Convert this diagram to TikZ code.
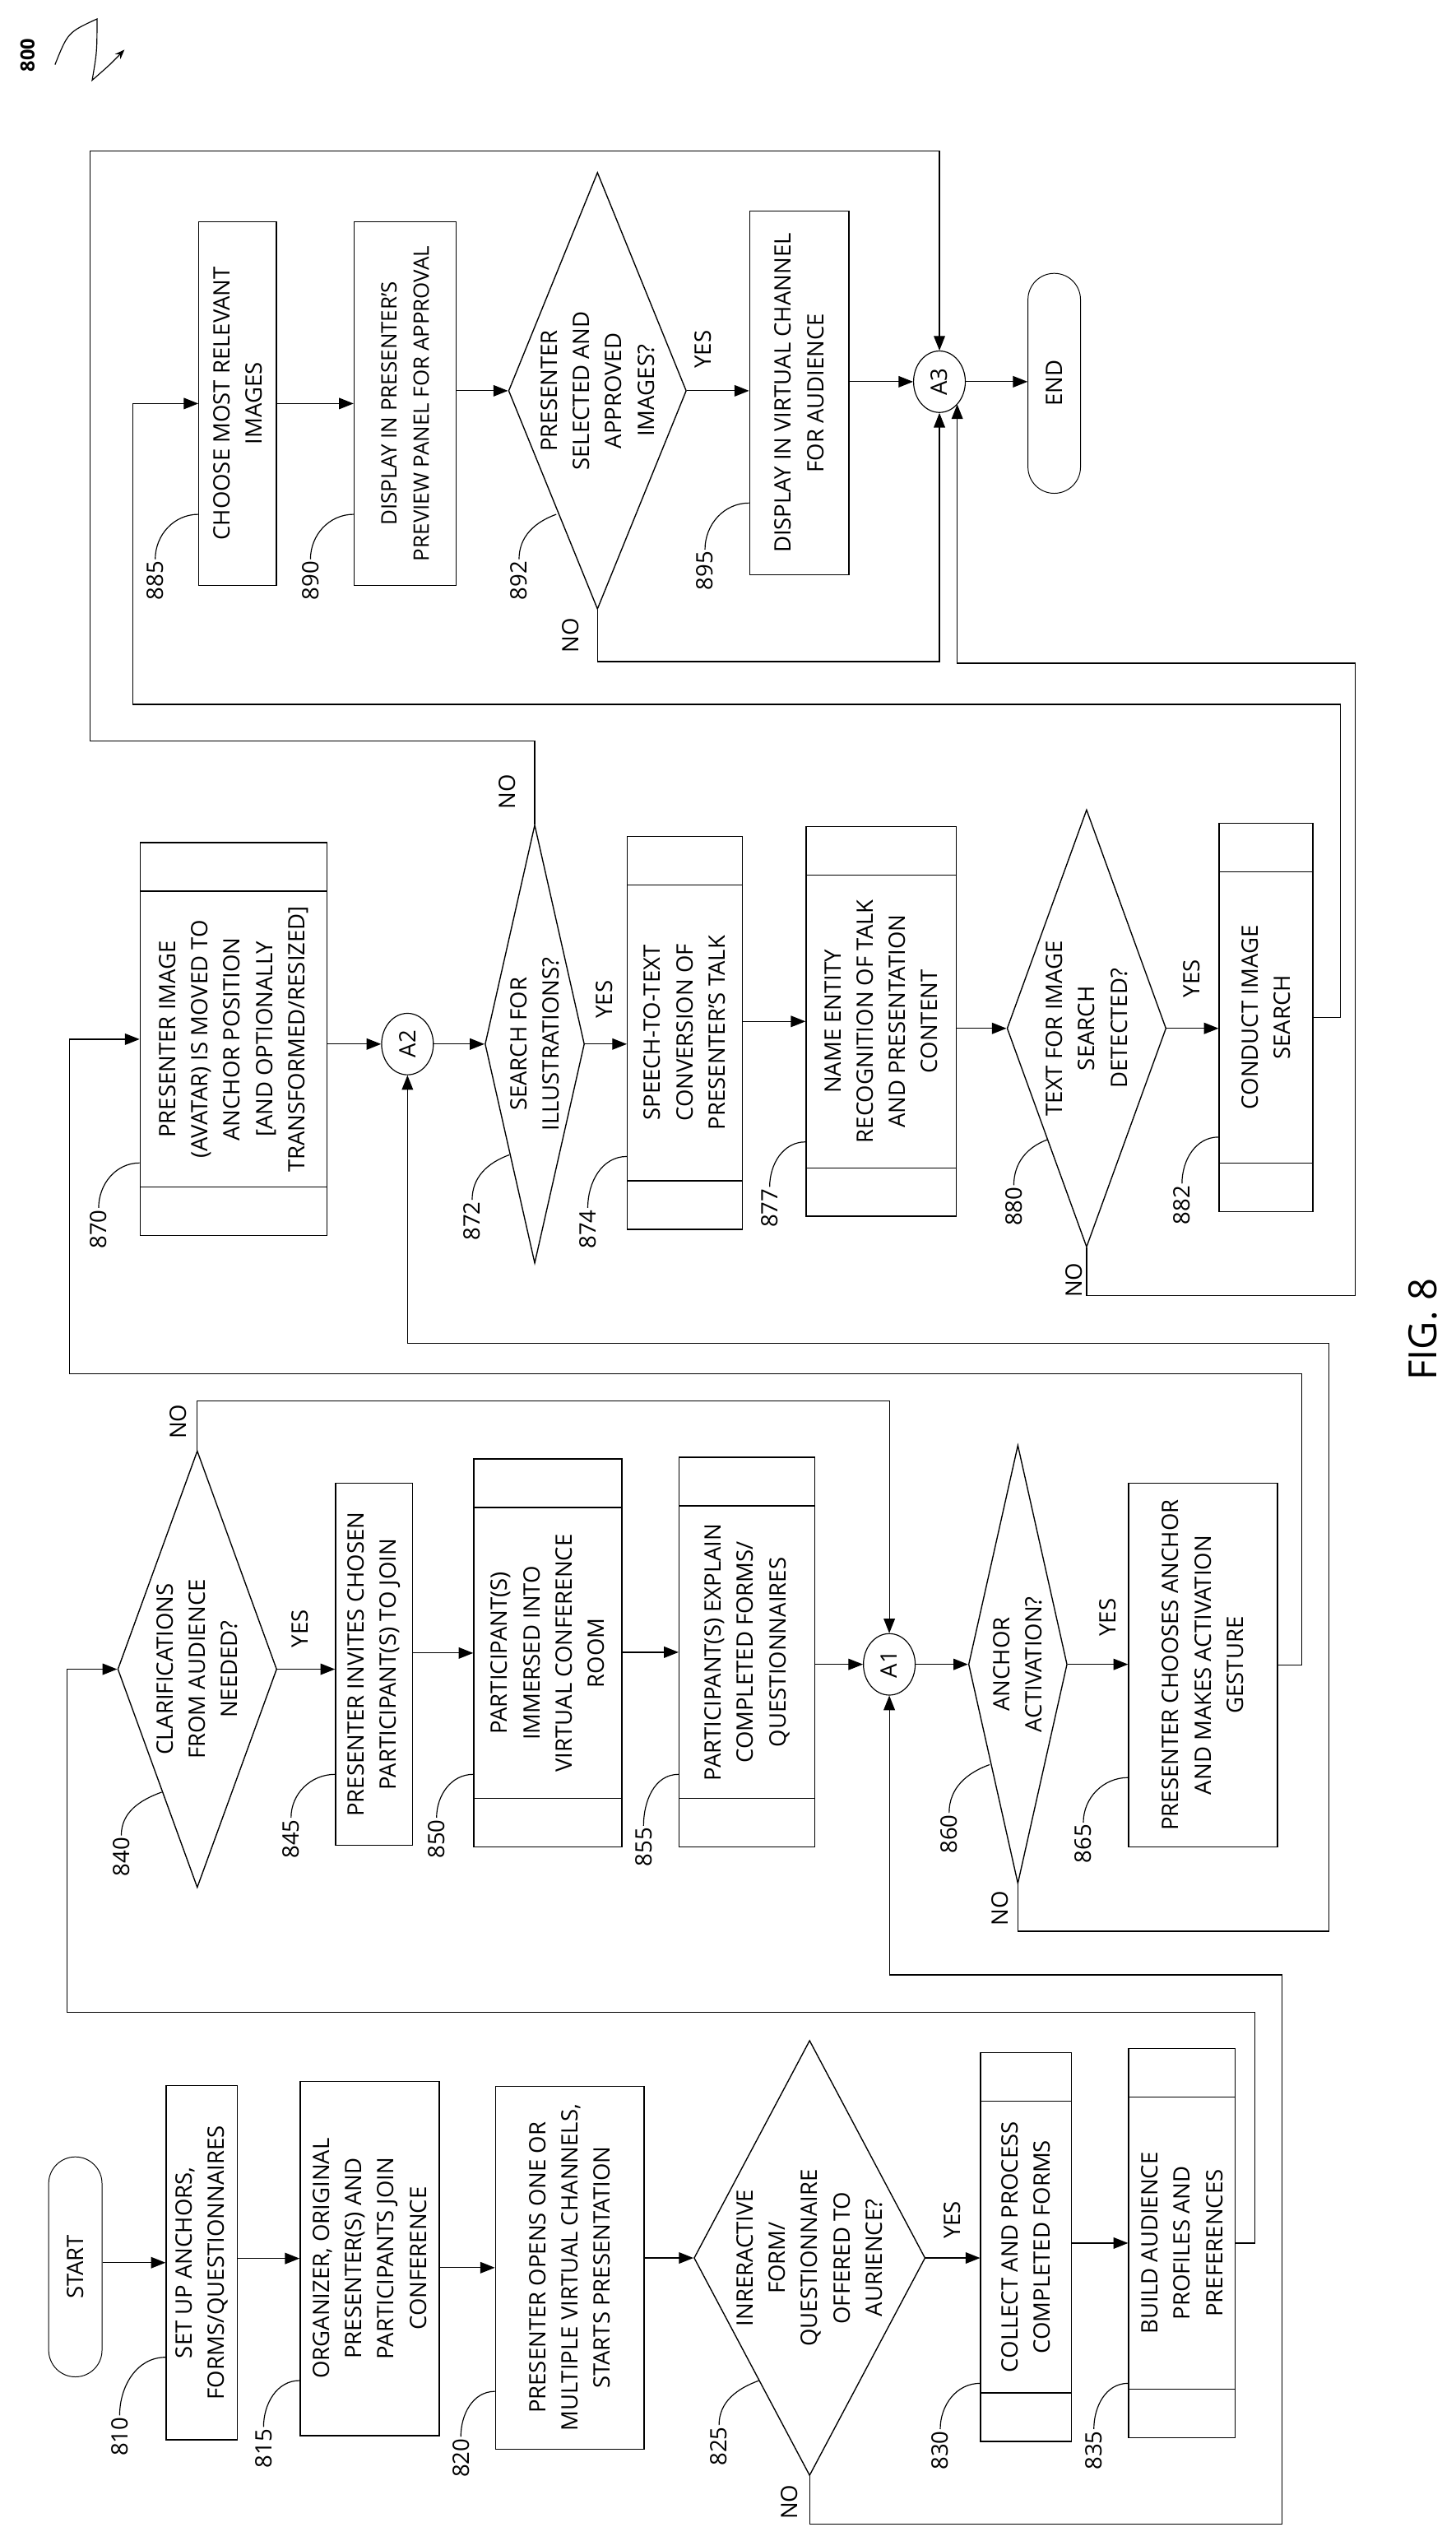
\documentclass[tikz,border=0pt]{standalone}
\usepackage{fontspec}
\setmainfont{Open Sans}
\usetikzlibrary{shapes.geometric,shapes.misc,arrows.meta}
\begin{document}
\begin{tikzpicture}[x=1pt,y=-1pt,
  every node/.style={font=\fontsize{14}{20}\selectfont},
  box/.style={draw,rectangle,rotate=90,inner sep=0pt,align=center,line width=.7pt},
  dia/.style={draw,diamond,rotate=90,inner sep=0pt,line width=.7pt},
  txt/.style={rotate=90,align=center,inner sep=0pt},
  ell/.style={draw,ellipse,rotate=90,inner sep=0pt,line width=.6pt},
  pill/.style={draw,rounded rectangle,rotate=90,inner sep=0pt,line width=.5pt},
  lab/.style={rotate=90,inner sep=1pt,font=\fontsize{14}{16}\selectfont},
  yn/.style={rotate=90,inner sep=0pt,font=\fontsize{14}{16}\selectfont},
  arr/.style={-{Triangle[length=9pt,width=7pt]},line width=.6pt},
  lead/.style={line width=.6pt}]
\useasboundingbox (0,0) rectangle (900,1571);
\newcommand\BX[6]{\node[box,minimum width=#5pt,minimum height=#4pt] (#1) at (#2,#3) {#6};}
\newcommand\PB[6]{\BX{#1}{#2}{#3}{#4}{#5}{#6}
  \draw[line width=.7pt] ({#2-#4/2},{#3-#5/2+30}) -- ({#2+#4/2},{#3-#5/2+30});
  \draw[line width=.7pt] ({#2-#4/2},{#3+#5/2-30}) -- ({#2+#4/2},{#3+#5/2-30});}
\newcommand\DI[6]{\node[dia,minimum width=#5pt,minimum height=#4pt] (#1) at (#2,#3) {};
  \node[txt] at (#2,#3) {#6};}
% ---------- column 1
\node[pill,minimum width=136pt,minimum height=33pt] (start) at (46.6,1401.5) {START};
\BX{s810}{124.75}{1398.9}{44}{219}{SET UP ANCHORS,\\FORMS/QUESTIONNAIRES}
\BX{s815}{228.6}{1396.3}{86}{219}{ORGANIZER, ORIGINAL\\PRESENTER(S) AND\\PARTICIPANTS JOIN\\CONFERENCE}
\BX{s820}{352.4}{1402}{92}{224.5}{PRESENTER OPENS ONE OR\\MULTIPLE VIRTUAL CHANNELS,\\STARTS PRESENTATION}
\DI{d825}{500.7}{1396}{143}{269}{INRERACTIVE\\FORM/\\QUESTIONNAIRE\\OFFERED TO\\AURIENCE?}
\PB{s830}{634.5}{1389.2}{56}{240.4}{COLLECT AND PROCESS\\COMPLETED FORMS}
\PB{s835}{731}{1386.8}{66}{240.4}{BUILD AUDIENCE\\PROFILES AND\\PREFERENCES}
% ---------- column 2
\DI{d840}{122}{1032}{98.4}{270}{CLARIFICATIONS\\FROM AUDIENCE\\NEEDED?}
\BX{s845}{231.3}{1029}{47.5}{224}{PRESENTER INVITES CHOSEN\\PARTICIPANT(S) TO JOIN}
\PB{s850}{338.8}{1022}{91.6}{240}{PARTICIPANT(S)\\IMMERSED INTO\\VIRTUAL CONFERENCE\\ROOM}
\PB{s855}{462}{1021.5}{84}{241}{PARTICIPANT(S) EXPLAIN\\COMPLETED FORMS/\\QUESTIONNAIRES}
\node[ell,minimum width=38pt,minimum height=32pt] (a1) at (550,1029) {A1};
\DI{d860}{629.5}{1029}{61}{271}{ANCHOR\\ACTIVATION?}
\BX{s865}{744}{1029.5}{92}{225}{PRESENTER CHOOSES ANCHOR\\AND MAKES ACTIVATION\\GESTURE}
% ---------- column 3
\PB{s870}{144.5}{642.5}{115.7}{243}{PRESENTER IMAGE\\(AVATAR) IS MOVED TO\\ANCHOR POSITION\\{[AND OPTIONALLY}\\TRANSFORMED/RESIZED]}
\node[ell,minimum width=38pt,minimum height=32pt] (a2) at (252,645.5) {A2};
\DI{d872}{330.7}{645.5}{61.5}{271}{SEARCH FOR\\ILLUSTRATIONS?}
\PB{s874}{423.5}{638.5}{71}{243}{SPEECH-TO-TEXT\\CONVERSION OF\\PRESENTER’S TALK}
\PB{s877}{545}{631.5}{93}{241}{NAME ENTITY\\RECOGNITION OF TALK\\AND PRESENTATION\\CONTENT}
\DI{d880}{672}{635.8}{98.4}{270.4}{TEXT FOR IMAGE\\SEARCH\\DETECTED?}
\PB{s882}{783}{629}{58}{240}{CONDUCT IMAGE\\SEARCH}
% ---------- column 4
\BX{s885}{147}{249.5}{48}{225}{CHOOSE MOST RELEVANT\\IMAGES}
\node[box,minimum width=225pt,minimum height=63pt,font=\fontsize{13.2}{20}\selectfont] (s890) at (250.5,249.5) {DISPLAY IN PRESENTER’S\\PREVIEW PANEL FOR APPROVAL};
\DI{d892}{369.5}{241.6}{110}{270}{PRESENTER\\SELECTED AND\\APPROVED\\IMAGES?}
\BX{s895}{494.3}{243}{61.4}{225}{DISPLAY IN VIRTUAL CHANNEL\\FOR AUDIENCE}
\node[ell,minimum width=38pt,minimum height=32pt] (a3) at (581,236) {A3};
\node[pill,minimum width=136pt,minimum height=32.5pt] (end) at (652,237) {END};
% ---------- main arrows
\draw[arr] (start.south |- s810) -- (s810.north);
\draw[arr] (s810.south |- s815) -- (s815.north);
\draw[arr] (s815.south |- s820) -- (s820.north);
\draw[arr] (s820.south |- d825) -- (d825.north);
\draw[arr] (d825.south) -- (d825.south -| s830.north);
\draw[arr] (s830.south |- s835) -- (s835.north);
\draw[arr] (d840.south) -- (d840.south -| s845.north);
\draw[arr] (s845.south |- s850) -- (s850.north);
\draw[arr] (s850.south |- s855) -- (s855.north);
\draw[arr] (s855.south |- a1) -- (a1.north);
\draw[arr] (a1.south) -- (d860.north);
\draw[arr] (d860.south) -- (d860.south -| s865.north);
\draw[arr] (s870.south |- a2) -- (a2.north);
\draw[arr] (a2.south) -- (d872.north);
\draw[arr] (d872.south) -- (d872.south -| s874.north);
\draw[arr] (s874.south |- s877) -- (s877.north);
\draw[arr] (s877.south |- d880) -- (d880.north);
\draw[arr] (d880.south) -- (d880.south -| s882.north);
\draw[arr] (s885.south |- s890) -- (s890.north);
\draw[arr] (s890.south |- d892) -- (d892.north);
\draw[arr] (d892.south) -- (d892.south -| s895.north);
\draw[arr] (s895.south |- a3) -- (a3.north);
\draw[arr] (a3.south) -- (a3.south -| end.north);
% ---------- loops
\coordinate (c1) at (776,1244); \coordinate (c2) at (41.5,1244);
\draw[arr] (s835.south) -| (c1) -- (c2) |- (d840.north);
\coordinate (c3) at (793,1560.4); \coordinate (c4) at (793,1221);
\draw[arr] (d825.west) |- (c3) -- (c4) -| (a1.west);
\coordinate (c5) at (550,866);
\draw[arr] (d840.east) |- (c5) -- (a1.east);
\coordinate (c6) at (822,1194); \coordinate (c7) at (822,830.6);
\draw[arr] (d860.west) |- (c6) -- (c7) -| (a2.west);
\coordinate (c8) at (805,849.5); \coordinate (c9) at (43,849.5);
\draw[arr] (s865.south) -| (c8) -- (c9) |- (s870.north);
\coordinate (c10) at (55.5,458); \coordinate (c11) at (581,93.5);
\draw[arr] (d872.east) |- (c10) |- (c11) -- (a3.east);
\coordinate (c12) at (829,435.5); \coordinate (c13) at (82,435.5);
\draw[arr] (s882.south) -| (c12) -- (c13) |- (s885.north);
\coordinate (c14) at (838,801); \coordinate (c15) at (838,410);
\coordinate (c16) at (592,410); \coordinate (c16e) at (592,250);
\draw[arr] (d880.west) |- (c14) -- (c15) -- (c16) -- (c16e);
\coordinate (c17) at (581,409);
\draw[arr] (d892.west) |- (c17) -- (a3.west);
% ---------- YES / NO
\node[yn] at (589,1372.5) {YES}; \node[yn] at (488,1547) {NO};
\node[yn] at (185.5,1007) {YES}; \node[yn] at (110,879) {NO};
\node[yn] at (685,1000) {YES};   \node[yn] at (618.5,1180) {NO};
\node[yn] at (374,618) {YES};    \node[yn] at (313.8,489.4) {NO};
\node[yn] at (737,605) {YES};    \node[yn] at (664,791.5) {NO};
\node[yn] at (435,216) {YES};    \node[yn] at (353,393) {NO};
% ---------- reference numerals
\newcommand\RL[5]{\node[lab] (l#1) at (#2,#3) {#1};
  \draw[lead] (l#1.east) to[out=90,in=180] ([yshift=-#5pt]#4.north);}
\newcommand\RD[5]{\node[lab] (l#1) at (#2,#3) {#1};
  \coordinate (p#1) at (#4,#5);
  \draw[lead] (l#1.east) to[out=90,in=200] (p#1);}
\RL{810}{74}{1506.5}{s810}{58.5}
\RL{815}{163}{1513.7}{s815}{75.5}
\RL{820}{285}{1519.7}{s820}{76.5}
\RD{825}{444.7}{1512.5}{469.4}{1471.8}
\RL{830}{581.5}{1515}{s830}{84.3}
\RL{835}{676.5}{1515}{s835}{86.7}
\RD{840}{75}{1148}{100}{1108}
\RL{845}{180}{1137}{s845}{68}
\RL{850}{270}{1137}{s850}{75}
\RL{855}{398}{1142}{s855}{75.5}
\RD{860}{587}{1134}{612}{1091}
\RL{865}{670}{1140}{s865}{69.5}
\RL{870}{61}{760}{s870}{76.5}
\RD{872}{292}{755}{315}{714}
\RL{874}{363.5}{760}{s874}{76.5}
\RL{877}{476}{747}{s877}{74.5}
\RD{880}{627}{746}{648}{704.5}
\RL{882}{731}{745}{s882}{74}
\RL{885}{96}{359}{s885}{68.5}
\RL{890}{192}{359}{s890}{68.5}
\RD{892}{321}{359}{344}{318}
\RL{895}{436}{353}{s895}{68}
% ---------- figure number and 800
\node[rotate=90,font=\fontsize{24}{26}\selectfont] (fig) at (880,822) {FIG. 8};
\node[rotate=90,font=\bfseries\fontsize{12}{14}\selectfont] (l800) at (17,34) {800};
\coordinate (q1) at (34,40); \coordinate (q2) at (60,11.7);
\coordinate (q3) at (57,49.6); \coordinate (q4) at (77,30.7);
\draw[line width=.6pt,-{Stealth[length=6pt]}] (q1) .. controls (42,20) .. (q2) .. controls (60,32) .. (q3) .. controls (68,40) .. (q4);
\end{tikzpicture}
\end{document}
